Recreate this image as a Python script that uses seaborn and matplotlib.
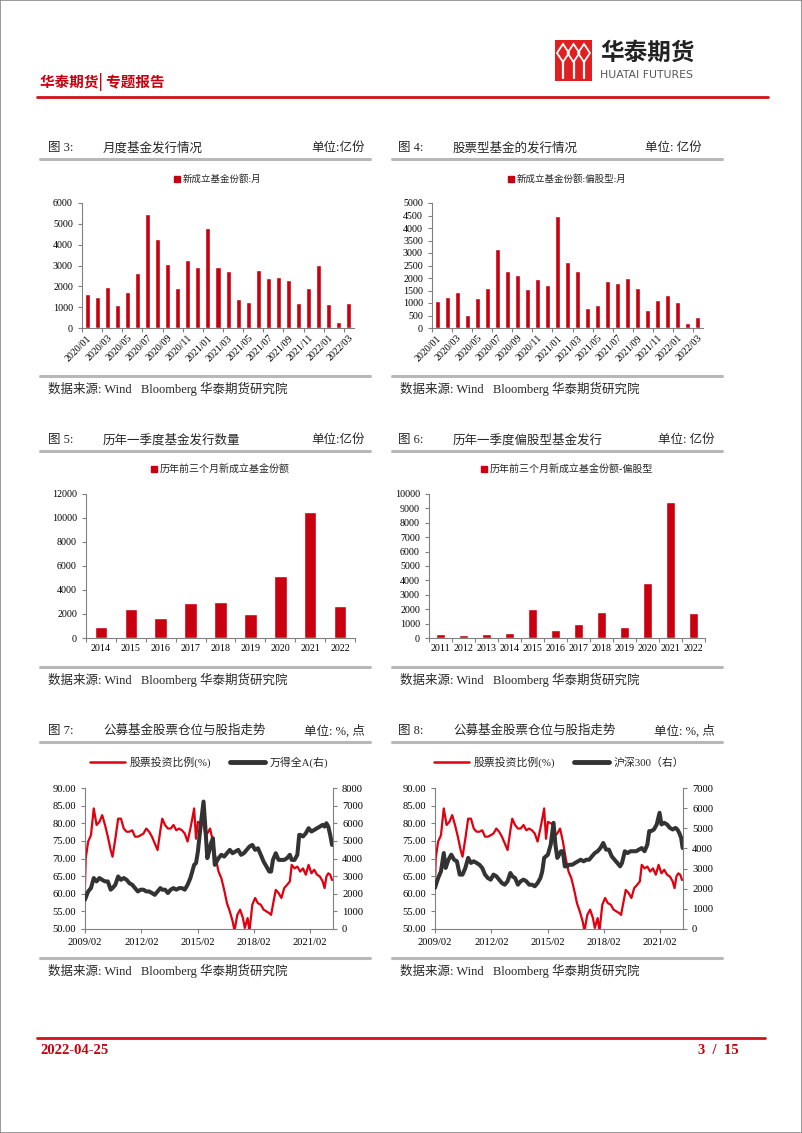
import numpy as np
import pandas as pd
import matplotlib
matplotlib.use("Agg")
import matplotlib.pyplot as plt
import matplotlib.patches as mpatches
from matplotlib.lines import Line2D
import seaborn as sns

sns.set_style("ticks")
plt.rcParams['font.family'] = ['Liberation Serif', 'Noto Sans CJK SC', 'DejaVu Sans']
plt.rcParams['axes.unicode_minus'] = False

# ---- data ----
months = ['2020/01', '2020/02', '2020/03', '2020/04', '2020/05', '2020/06', '2020/07', '2020/08', '2020/09',
          '2020/10', '2020/11', '2020/12', '2021/01', '2021/02', '2021/03', '2021/04', '2021/05', '2021/06',
          '2021/07', '2021/08', '2021/09', '2021/10', '2021/11', '2021/12', '2022/01', '2022/02', '2022/03']
fund_month = [1620, 1500, 1980, 1100, 1720, 2620, 5450, 4270, 3060, 1940, 3270, 2940, 4820, 2950, 2730,
              1390, 1250, 2790, 2420, 2470, 2300, 1180, 1930, 3020, 1130, 290, 1190]
equity_month = [1090, 1250, 1450, 520, 1190, 1590, 3160, 2280, 2130, 1560, 1970, 1740, 4490, 2650, 2280,
                790, 930, 1870, 1820, 1990, 1620, 740, 1110, 1340, 1030, 210, 440]

years_q1 = ['2014', '2015', '2016', '2017', '2018', '2019', '2020', '2021', '2022']
q1_fund = [900, 2430, 1640, 2900, 2980, 2020, 5130, 10500, 2640]

years_q1_eq = ['2011', '2012', '2013', '2014', '2015', '2016', '2017', '2018', '2019', '2020', '2021', '2022']
q1_equity = [300, 210, 310, 370, 2000, 590, 940, 1780, 740, 3800, 9440, 1710]

# stock allocation ratio (%), decimal years
t_ratio = [2009.08, 2009.12, 2009.25, 2009.4, 2009.55, 2009.7, 2009.85, 2010.0, 2010.15, 2010.3, 2010.45,
           2010.55, 2010.7, 2010.85, 2011.0, 2011.15, 2011.3, 2011.45, 2011.6, 2011.75, 2011.9, 2012.05,
           2012.2, 2012.35, 2012.5, 2012.65, 2012.8, 2012.95, 2013.1, 2013.2, 2013.35, 2013.5, 2013.65,
           2013.8, 2013.95, 2014.1, 2014.25, 2014.4, 2014.55, 2014.7, 2014.8, 2014.9, 2015.0, 2015.1,
           2015.25, 2015.4, 2015.5, 2015.6, 2015.75, 2015.9, 2016.05, 2016.2, 2016.35, 2016.5, 2016.65,
           2016.8, 2016.95, 2017.05, 2017.2, 2017.35, 2017.5, 2017.6, 2017.75, 2017.85, 2018.0, 2018.15,
           2018.3, 2018.45, 2018.6, 2018.75, 2018.9, 2019.0, 2019.1, 2019.25, 2019.4, 2019.55, 2019.7,
           2019.85, 2020.0, 2020.1, 2020.25, 2020.4, 2020.55, 2020.7, 2020.85, 2021.0, 2021.15, 2021.3,
           2021.45, 2021.6, 2021.75, 2021.85, 2021.95, 2022.05, 2022.15, 2022.25]
ratio = [62.0, 70.0, 74.8, 76.6, 84.2, 79.5, 80.4, 82.3, 79.5, 76.2, 72.4, 70.5, 75.6, 81.3, 81.3, 78.5,
         77.6, 77.6, 78.0, 76.2, 76.2, 76.6, 77.1, 78.5, 77.6, 76.2, 74.3, 72.4, 78.0, 81.3, 79.5, 78.5,
         78.5, 79.5, 78.0, 78.5, 78.0, 77.1, 74.8, 78.5, 81.3, 84.2, 75.6, 80.4, 80.0, 79.5, 76.6, 77.1,
         78.5, 74.8, 70.0, 66.3, 64.4, 61.1, 57.3, 55.0, 52.2, 49.5, 54.0, 55.5, 53.1, 50.3, 53.1, 49.5,
         56.9, 58.8, 57.3, 56.9, 55.5, 55.0, 54.5, 54.0, 56.9, 61.1, 60.2, 58.8, 61.6, 62.5, 63.5, 68.2,
         67.2, 67.7, 66.3, 67.2, 65.4, 68.2, 65.8, 66.8, 65.4, 64.9, 63.5, 61.6, 64.9, 65.8, 65.4, 63.9]

t_wind = [2009.08, 2009.25, 2009.4, 2009.55, 2009.7, 2009.85, 2010.0, 2010.15, 2010.3, 2010.45, 2010.55,
          2010.7, 2010.85, 2011.0, 2011.15, 2011.3, 2011.45, 2011.6, 2011.75, 2011.9, 2012.05, 2012.2,
          2012.35, 2012.5, 2012.65, 2012.8, 2012.95, 2013.1, 2013.2, 2013.35, 2013.5, 2013.65, 2013.8,
          2013.95, 2014.1, 2014.25, 2014.4, 2014.55, 2014.7, 2014.8, 2014.9, 2015.0, 2015.1, 2015.25,
          2015.4, 2015.5, 2015.6, 2015.7, 2015.8, 2015.9, 2016.0, 2016.1, 2016.2, 2016.35, 2016.5,
          2016.65, 2016.8, 2016.95, 2017.1, 2017.25, 2017.4, 2017.55, 2017.7, 2017.85, 2018.0, 2018.15,
          2018.3, 2018.45, 2018.6, 2018.75, 2018.9, 2019.0, 2019.1, 2019.25, 2019.4, 2019.55, 2019.7,
          2019.85, 2020.0, 2020.1, 2020.25, 2020.4, 2020.5, 2020.55, 2020.7, 2020.85, 2021.0, 2021.15,
          2021.3, 2021.45, 2021.6, 2021.75, 2021.85, 2021.95, 2022.05, 2022.15, 2022.25]
wind_a = [1660, 2130, 2320, 2890, 2700, 2890, 2790, 2700, 2700, 2230, 2320, 2510, 2980, 2790, 2890, 2790,
          2600, 2510, 2320, 2130, 2230, 2230, 2130, 2130, 2040, 1940, 2130, 2320, 2230, 2230, 2040, 2230,
          2320, 2230, 2320, 2320, 2230, 2510, 2890, 3260, 3640, 3740, 4400, 5910, 7230, 5720, 4020, 4400,
          4870, 5150, 3640, 3830, 4020, 4210, 4110, 4300, 4490, 4300, 4400, 4490, 4210, 4300, 4490, 4680,
          4770, 4490, 4580, 4210, 3830, 3550, 3260, 3260, 3920, 4300, 3920, 3920, 3920, 4020, 4210, 3920,
          3920, 4210, 5340, 5340, 5250, 5430, 5720, 5530, 5620, 5720, 5810, 5910, 5810, 6000, 5810, 5340,
          4770]

t_hs300 = [2009.08, 2009.25, 2009.4, 2009.55, 2009.65, 2009.8, 2009.95, 2010.1, 2010.25, 2010.4, 2010.55,
           2010.7, 2010.85, 2011.0, 2011.15, 2011.3, 2011.45, 2011.6, 2011.75, 2011.9, 2012.05, 2012.2,
           2012.35, 2012.5, 2012.65, 2012.8, 2012.95, 2013.1, 2013.2, 2013.35, 2013.5, 2013.65, 2013.8,
           2013.95, 2014.1, 2014.25, 2014.4, 2014.55, 2014.7, 2014.8, 2014.9, 2015.0, 2015.1, 2015.25,
           2015.4, 2015.5, 2015.6, 2015.7, 2015.8, 2015.9, 2016.0, 2016.1, 2016.25, 2016.4, 2016.55,
           2016.7, 2016.85, 2017.0, 2017.15, 2017.3, 2017.45, 2017.6, 2017.75, 2017.9, 2018.05, 2018.2,
           2018.35, 2018.5, 2018.65, 2018.8, 2018.95, 2019.05, 2019.2, 2019.35, 2019.5, 2019.65, 2019.8,
           2019.95, 2020.1, 2020.25, 2020.4, 2020.5, 2020.6, 2020.75, 2020.9, 2021.05, 2021.15, 2021.3,
           2021.45, 2021.6, 2021.75, 2021.9, 2022.0, 2022.1, 2022.2, 2022.28]
hs300 = [2040, 2530, 2860, 3770, 3030, 3440, 3690, 3440, 3360, 2700, 2700, 3030, 3530, 3280, 3360, 3280,
         3190, 3030, 2700, 2530, 2450, 2700, 2620, 2450, 2280, 2200, 2370, 2780, 2620, 2530, 2200, 2370,
         2450, 2370, 2200, 2200, 2120, 2280, 2530, 2860, 3530, 3610, 3690, 4190, 5270, 4190, 3530, 3690,
         3860, 3860, 3110, 3110, 3190, 3190, 3280, 3360, 3440, 3360, 3440, 3440, 3610, 3770, 3860, 4020,
         4270, 3940, 3940, 3610, 3440, 3280, 3110, 3280, 3860, 3770, 3860, 3860, 3860, 3940, 4020, 3860,
         4190, 4860, 4860, 4940, 5190, 5770, 5190, 5270, 5190, 5020, 4940, 5020, 4940, 4770, 4530, 4020]

line_ticks = [2009.083, 2012.083, 2015.083, 2018.083, 2021.083]
line_tick_labels = ['2009/02', '2012/02', '2015/02', '2018/02', '2021/02']

RED = '#C8000F'
RED_LINE = '#E0000F'
DARK = '#333333'
GRAY = '#808080'

W, H = 802, 1133
fig = plt.figure(figsize=(W / 100, H / 100), dpi=100)


def rect(l, t, r, b):
    return [l / W, 1 - b / H, (r - l) / W, (b - t) / H]


def ftext(x, y, s, **kw):
    kw.setdefault('va', 'center')
    fig.text(x / W, 1 - y / H, s, **kw)


def hline(x0, x1, y, color, lw):
    fig.add_artist(Line2D([x0 / W, x1 / W], [1 - y / H, 1 - y / H], color=color, lw=lw,
                          transform=fig.transFigure))


def style_axis(ax, size=7):
    for s in ['top', 'right']:
        ax.spines[s].set_visible(False)
    for s in ['left', 'bottom']:
        ax.spines[s].set_color(GRAY)
        ax.spines[s].set_linewidth(0.8)
    ax.tick_params(colors=GRAY, labelcolor='black', labelsize=size, width=0.8, length=3, direction='out')
    ax.set_xlabel('')
    ax.set_ylabel('')


def bar_panel(box, labels, values, ymax, step, legend_label, every=1, rotate=False, width=0.5,
              legend_size=6.8):
    ax = fig.add_axes(rect(*box))
    df = pd.DataFrame({'cat': labels, 'val': values})
    sns.barplot(data=df, x='cat', y='val', color=RED, saturation=1, width=width, ax=ax)
    n = len(labels)
    ax.set_xlim(-0.5, n - 0.5)
    ax.set_ylim(0, ymax)
    ax.set_yticks(np.arange(0, ymax + 1, step))
    ax.set_xticks(range(0, n, every))
    if rotate:
        ax.set_xticklabels(labels[::every], rotation=45, ha='right', rotation_mode='anchor')
    else:
        ax.set_xticklabels(labels[::every])
    style_axis(ax, 7.2)
    ax.tick_params(axis='x', which='major', length=0, pad=4)
    ax.set_xticks(np.arange(-0.5, n, every), minor=True)
    ax.tick_params(axis='x', which='minor', length=3, color=GRAY, width=0.8)
    h = mpatches.Patch(color=RED, label=legend_label)
    ax.legend(handles=[h], loc='center', bbox_to_anchor=(0.5, 1.19 if ymax < 7000 else 1.17),
              frameon=False, fontsize=legend_size, handlelength=0.6, handleheight=0.6, handletextpad=0.3)
    return ax


def line_panel(box, t_right, v_right, right_max, right_label):
    ax = fig.add_axes(rect(*box))
    sns.lineplot(x=t_ratio, y=ratio, color=RED_LINE, lw=1.6, ax=ax, legend=False)
    ax.set_ylim(50, 90)
    ax.set_yticks(np.arange(50, 91, 5))
    ax.set_yticklabels([f'{v:.2f}' for v in np.arange(50, 91, 5)])
    ax.set_xlim(2009.083, 2022.3)
    ax.set_xticks(line_ticks)
    ax.set_xticklabels(line_tick_labels)
    style_axis(ax, 7.6)
    ax2 = ax.twinx()
    sns.lineplot(x=t_right, y=v_right, color=DARK, lw=2.9, ax=ax2, legend=False)
    ax2.set_ylim(0, right_max)
    ax2.set_yticks(np.arange(0, right_max + 1, 1000))
    ax2.set_xlim(2009.083, 2022.3)
    for s in ['top', 'left', 'bottom']:
        ax2.spines[s].set_visible(False)
    ax2.spines['right'].set_color(GRAY)
    ax2.spines['right'].set_linewidth(0.8)
    ax2.tick_params(colors=GRAY, labelcolor='black', labelsize=7.6, width=0.8, length=3)
    ax2.set_ylabel('')
    handles = [Line2D([], [], color=RED_LINE, lw=1.8, label='股票投资比例(%)'),
               Line2D([], [], color=DARK, lw=3.5, label=right_label)]
    ax.legend(handles=handles, loc='center', bbox_to_anchor=(0.5, 1.18), ncol=2, frameon=False,
              fontsize=7.8, handlelength=3.2, columnspacing=1.8, handletextpad=0.4)


# ---- page decorations ----
fig.add_artist(mpatches.Rectangle((0, 0), 1, 1, transform=fig.transFigure, fill=False,
                                  edgecolor='#888888', lw=1.2))

# logo
lx0, ly0, lx1, ly1 = 555, 40, 592, 81
fig.add_artist(mpatches.Rectangle((lx0 / W, 1 - ly1 / H), (lx1 - lx0) / W, (ly1 - ly0) / H,
                                  transform=fig.transFigure, color='#E02020', lw=0))
for cx in [563, 573.5, 584]:
    cy = 53
    dx, dy = 6, 9
    fig.add_artist(mpatches.Polygon([((cx - dx) / W, 1 - cy / H), (cx / W, 1 - (cy - dy) / H),
                                     ((cx + dx) / W, 1 - cy / H), (cx / W, 1 - (cy + dy) / H)],
                                    closed=True, transform=fig.transFigure, fill=False,
                                    edgecolor='white', lw=1.3))
    fig.add_artist(Line2D([cx / W, cx / W], [1 - (cy + dy) / H, 1 - 78 / H], color='white', lw=1.6,
                          transform=fig.transFigure))
ftext(600, 53, '华泰期货', fontsize=17, fontweight='bold', color='#222222',
      family=['Noto Sans CJK SC'])
ftext(600, 75, 'HUATAI FUTURES', fontsize=7.8, color='#555555', family=['DejaVu Sans'])

ftext(40, 82, '华泰期货| 专题报告', fontsize=10.5, fontweight='bold', color=RED,
      family=['Noto Sans CJK SC'])
hline(37, 768, 97, '#D0101A', 2.0)

# footer
hline(37, 765, 1038, '#D0101A', 2.0)
ftext(40, 1051, '2022-04-25', fontsize=10.5, fontweight='bold', color=RED, family=['Liberation Serif'])
ftext(739, 1051, '3  /  15', fontsize=10.5, fontweight='bold', color=RED, ha='right',
      family=['Liberation Serif'])

# panel headers and sources
headers = [
    (48, 148, '图 3:', '月度基金发行情况', 365, '单位:亿份'),
    (398, 148, '图 4:', '股票型基金的发行情况', 702, '单位: 亿份'),
    (48, 440, '图 5:', '历年一季度基金发行数量', 365, '单位:亿份'),
    (398, 440, '图 6:', '历年一季度偏股型基金发行', 715, '单位: 亿份'),
    (48, 731, '图 7:', '公募基金股票仓位与股指走势', 365, '单位: %, 点'),
    (398, 731, '图 8:', '公募基金股票仓位与股指走势', 715, '单位: %, 点'),
]
for x, y, num, title, xr, unit in headers:
    ftext(x, y, num, fontsize=9)
    ftext(x + 55, y, title, fontsize=9)
    ftext(xr, y, unit, fontsize=9, ha='right')
    x0 = 40 if x < 200 else 392
    hline(x0, x0 + 330, y + 11, '#B8B8B8', 2.2)

for y in [376, 667, 958]:
    for x0 in [40, 392]:
        hline(x0, x0 + 330, y, '#B8B8B8', 2.2)
        ftext(x0 + 8, y + 13, '数据来源: Wind   Bloomberg 华泰期货研究院', fontsize=9)

# ---- charts ----
bar_panel((82, 203, 354, 328), months, fund_month, 6000, 1000, '新成立基金份额:月', every=2, rotate=True)
bar_panel((432, 203, 703, 328), months, equity_month, 5000, 500, '新成立基金份额:偏股型:月', every=2,
          rotate=True)
bar_panel((86, 494, 355, 638), years_q1, q1_fund, 12000, 2000, '历年前三个月新成立基金份额', width=0.42,
          legend_size=7.2)
bar_panel((429, 494, 705, 638), years_q1_eq, q1_equity, 10000, 1000, '历年前三个月新成立基金份额-偏股型',
          width=0.42, legend_size=7.2)

line_panel((85, 788, 333, 929), t_wind, wind_a, 8000, '万得全A(右)')
line_panel((435, 788, 683, 929), t_hs300, hs300, 7000, '沪深300（右）')

fig.savefig('out.png', dpi=100)
